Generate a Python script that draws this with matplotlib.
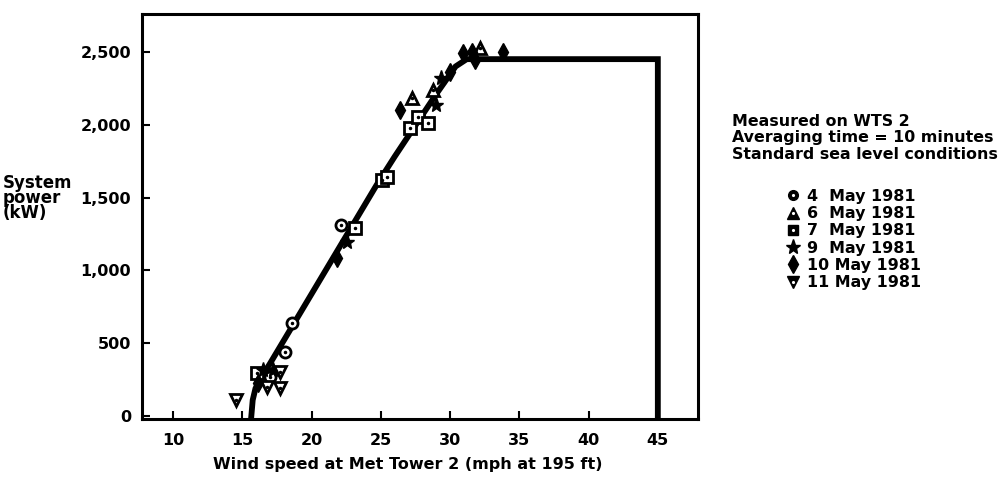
import matplotlib
matplotlib.use('Agg')
import matplotlib.pyplot as plt
from matplotlib.lines import Line2D
from matplotlib.ticker import FuncFormatter

plt.rcParams['font.family'] = ['DejaVu Sans']
plt.rcParams['font.weight'] = 'bold'

# power curve (mph, kW)
curve_wind = [15.65, 15.75, 15.95, 16.3, 17.0, 18.44, 24.7, 26.0, 29.0, 30.4, 31.2, 45.0, 45.0]
curve_power = [0, 110, 190, 255, 361, 590, 1587, 1781, 2210, 2400, 2450, 2450, 0]

# measured points by date
may4_wind = [17.0, 18.08, 18.56, 22.12]
may4_power = [270, 442, 637, 1312]
may6_wind = [27.27, 28.79, 32.15]
may6_power = [2182, 2239, 2525]
may7_wind = [16.04, 23.13, 25.05, 25.42, 27.1, 27.67, 28.42]
may7_power = [293, 1289, 1621, 1643, 1976, 2056, 2010]
may9_wind = [16.5, 17.2, 22.53, 29.0, 29.38]
may9_power = [316, 316, 1197, 2136, 2319]
may10_wind = [16.15, 21.8, 26.38, 29.99, 30.95, 31.56, 31.8, 33.83]
may10_power = [225, 1083, 2102, 2365, 2491, 2502, 2445, 2502]
may11_wind = [14.55, 16.76, 17.7, 17.7]
may11_power = [110, 201, 190, 304]

labels = ['4  May 1981', '6  May 1981', '7  May 1981',
          '9  May 1981', '10 May 1981', '11 May 1981']
notes = 'Measured on WTS 2\nAveraging time = 10 minutes\nStandard sea level conditions'

series = [(may4_wind, may4_power), (may6_wind, may6_power), (may7_wind, may7_power),
          (may9_wind, may9_power), (may10_wind, may10_power), (may11_wind, may11_power)]
# marker, filled?, size
styles = [('o', False, 8), ('^', False, 9), ('s', False, 8),
          ('*', True, 11), ('d', True, 9), ('v', False, 9)]

fig = plt.figure(figsize=(10.01, 4.87), dpi=100)
ax = fig.add_axes([0.1419, 0.1396, 0.5554, 0.8317])

ax.plot(curve_wind, curve_power, color='black', lw=4.2, solid_joinstyle='miter', zorder=2)

handles = []
for (xs, ys), (m, filled, ms) in zip(series, styles):
    if filled:
        ax.plot(xs, ys, ls='none', marker=m, ms=ms, mfc='black', mec='black', zorder=3)
        handles.append(Line2D([], [], ls='none', marker=m, ms=ms, mfc='black', mec='black'))
    else:
        ax.plot(xs, ys, ls='none', marker=m, ms=ms, mfc='white', mec='black', mew=2, zorder=3)
        ax.plot(xs, ys, ls='none', marker='.', ms=3, color='black', zorder=4)
        h1 = Line2D([], [], ls='none', marker=m, ms=ms - 1, mfc='black', mec='black')
        h2 = Line2D([], [], ls='none', marker='.', ms=2.5, color='white')
        handles.append((h1, h2))

ax.set_xlim(7.76, 47.9)
ax.set_ylim(-20, 2760)
ax.set_xticks([10, 15, 20, 25, 30, 35, 40, 45])
ax.set_yticks([0, 500, 1000, 1500, 2000, 2500])
ax.yaxis.set_major_formatter(FuncFormatter(lambda v, p: f'{int(v):,}'))
ax.tick_params(direction='in', length=6, width=1.5, labelsize=11.5)
ax.tick_params(axis='x', pad=10)
ax.tick_params(axis='y', pad=8)
for s in ax.spines.values():
    s.set_linewidth(2.2)

fig.text(408 / 1001, 1 - 465 / 487, 'Wind speed at Met Tower 2 (mph at 195 ft)',
         ha='center', va='center', fontsize=11.5)
fig.text(3 / 1001, 1 - 174 / 487, 'System\npower\n(kW)', ha='left', va='top',
         fontsize=12, linespacing=0.78)
fig.text(732 / 1001, 1 - 114 / 487, notes, ha='left', va='top', fontsize=11.4, linespacing=1.12)

fig.legend(handles, labels, loc='upper left', bbox_to_anchor=(785 / 1001, 1 - 189 / 487),
           frameon=False, handlelength=1.0, handletextpad=0.4, labelspacing=0.14,
           borderaxespad=0, borderpad=0, fontsize=11.4)

fig.savefig('out.png', dpi=100)
